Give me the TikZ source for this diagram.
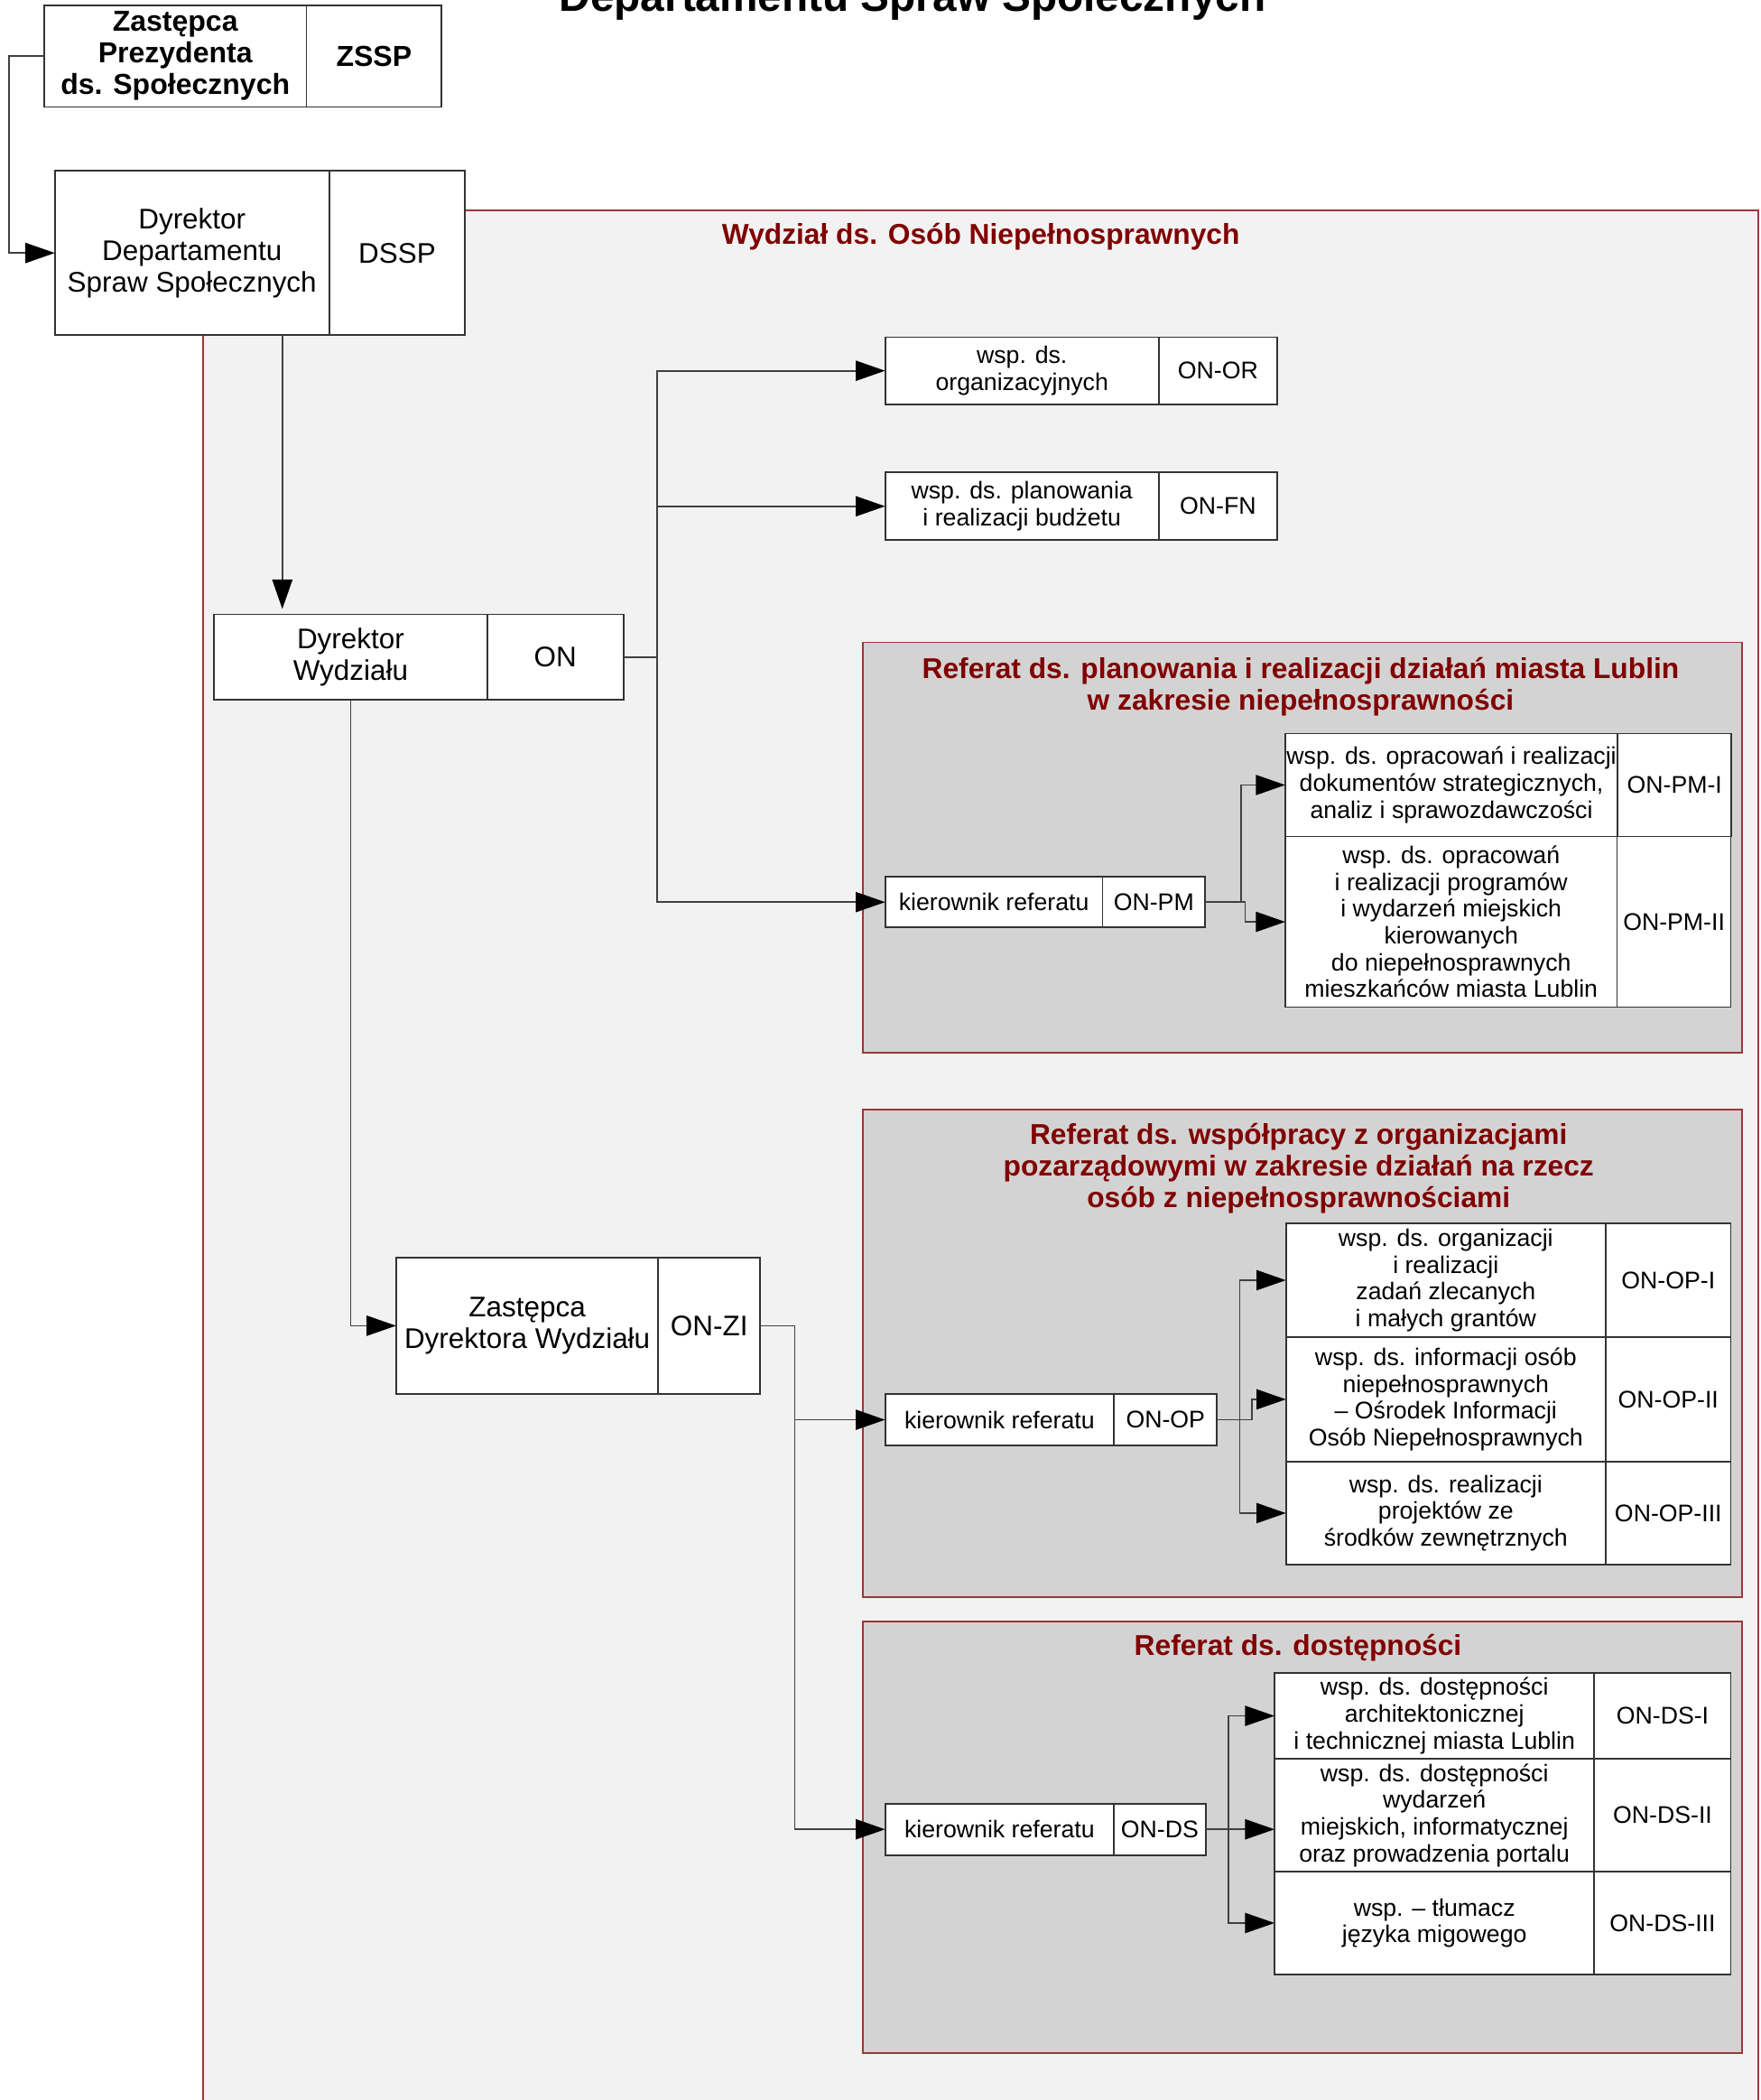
\documentclass[tikz,border=0pt]{standalone}
\usepackage{fontspec}
\setmainfont{Liberation Sans}
\usetikzlibrary{arrows.meta}

\definecolor{wydzialbg}{RGB}{242,242,242}
\definecolor{referatbg}{RGB}{211,211,211}
\definecolor{ramka}{RGB}{155,55,55}
\definecolor{tytul}{RGB}{128,0,0}

\newcommand{\pxu}{0.5pt}
\tikzstyle{cell}=[draw=black!80,fill=white,line width=0.6pt,inner xsep=0.5pt,
    inner ysep=1pt,outer sep=0pt,align=center,font=\fontsize{9}{10}\selectfont]
\tikzstyle{cell big}=[font=\fontsize{10.6}{11.8}\selectfont]
\tikzstyle{cell bold}=[font=\bfseries\fontsize{10.8}{11.8}\selectfont]
\tikzstyle{section}=[draw=ramka,line width=0.6pt]
\tikzstyle{section title}=[text=tytul,align=center,
    font=\bfseries\fontsize{10.7}{11.8}\selectfont]
\tikzstyle{link}=[draw=black!75,line width=0.6pt]
\tikzstyle{arrow}=[link,-{Triangle[length=11pt,width=7.5pt,color=black]}]
\newcommand{\post}[8][]{
    \node[cell,#1,anchor=north west,minimum width=#4*\pxu,
        minimum height=#6*\pxu] at (#2) (#3) {#7};
    \node[cell,#1,anchor=north west,minimum width=#5*\pxu,
        minimum height=#6*\pxu] at (#3.north east) (#3-kod) {#8};
}

\begin{document}
\begin{tikzpicture}[x=0.5pt,y=-0.5pt]
    \useasboundingbox (0,0) rectangle (1316,1569);
    %
    \node[anchor=base,font=\bfseries\fontsize{16.1}{18}\selectfont] (naglowek)
        at (682,8.5) {Departamentu Spraw Społecznych};
    %
    \filldraw[section,fill=wydzialbg] (152,157) rectangle (1314,1600);
    \node[section title] (wydzial) at (733,177) {Wydział ds. Osób Niepełnosprawnych};
    %
    \filldraw[section,fill=referatbg] (645,480) rectangle (1302,786.5);
    \node[section title] (refpm) at (972,513)
        {Referat ds. planowania i realizacji działań miasta Lublin\\
         w zakresie niepełnosprawności};
    \filldraw[section,fill=referatbg] (645,829) rectangle (1302,1193);
    \node[section title] (refop) at (970.5,873)
        {Referat ds. współpracy z organizacjami\\
         pozarządowymi w zakresie działań na rzecz\\
         osób z niepełnosprawnościami};
    \filldraw[section,fill=referatbg] (645,1211.5) rectangle (1302,1534);
    \node[section title] (refds) at (970,1231) {Referat ds. dostępności};
    %
    \post[cell bold]{33,4}{zssp}{196}{101}{76}
        {Zastępca\\Prezydenta\\ds. Społecznych}{ZSSP}
    \post[cell big]{41,127.5}{dssp}{205}{101.5}{123}
        {Dyrektor\\Departamentu\\Spraw Społecznych}{DSSP}
    \post[cell big]{160,459}{dw}{204}{102}{64}{Dyrektor\\Wydziału}{ON}
    \post[cell big]{296,939.5}{zdw}{196}{76}{102}
        {Zastępca\\Dyrektora Wydziału}{ON-ZI}
    %
    \post{661.5,252}{onor}{204.5}{88.5}{50}{wsp. ds.\\organizacyjnych}{ON-OR}
    \post{661.5,353}{onfn}{204.5}{88.5}{50.5}
        {wsp. ds. planowania\\i realizacji budżetu}{ON-FN}
    %
    \post{661.5,655}{kpm}{162.5}{76.5}{38}{kierownik referatu}{ON-PM}
    \post{960.5,548}{pm1}{248}{85}{77}
        {wsp. ds. opracowań i realizacji\\dokumentów strategicznych,\\
         analiz i sprawozdawczości}{ON-PM-I}
    \post{960.5,625}{pm2}{248}{85}{127.5}
        {wsp. ds. opracowań\\i realizacji programów\\i wydarzeń miejskich\\
         kierowanych\\do niepełnosprawnych\\mieszkańców miasta Lublin}{ON-PM-II}
    %
    \post{661.5,1041.5}{kop}{171}{77}{38.5}{kierownik referatu}{ON-OP}
    \post{961,914}{op1}{239}{93.5}{85}
        {wsp. ds. organizacji\\i realizacji\\zadań zlecanych\\i małych grantów}{ON-OP-I}
    \post{961,999}{op2}{239}{93.5}{93}
        {wsp. ds. informacji osób\\niepełnosprawnych\\– Ośrodek Informacji\\
         Osób Niepełnosprawnych}{ON-OP-II}
    \post{961,1092}{op3}{239}{93.5}{77}
        {wsp. ds. realizacji\\projektów ze\\środków zewnętrznych}{ON-OP-III}
    %
    \post{661.5,1347.5}{kds}{171}{68.5}{38.5}{kierownik referatu}{ON-DS}
    \post{952.5,1250}{ds1}{239}{102}{64}
        {wsp. ds. dostępności\\architektonicznej\\i technicznej miasta Lublin}{ON-DS-I}
    \post{952.5,1314}{ds2}{239}{102}{84.5}
        {wsp. ds. dostępności\\wydarzeń\\miejskich, informatycznej\\
         oraz prowadzenia portalu}{ON-DS-II}
    \post{952.5,1398.5}{ds3}{239}{102}{76.5}
        {wsp. – tłumacz\\języka migowego}{ON-DS-III}
    %
    \draw[arrow] (zssp.west) -- ++(-26,0) |- (dssp.west);
    \draw[arrow,shorten >=2pt] (211,0 |- dssp.south) -- (211,0 |- dw.north);
    %
    \draw[arrow] (dw-kod.east) -- ++(25,0) |- (onor.west);
    \draw[arrow] (dw-kod.east) -- ++(25,0) |- (onfn.west);
    \draw[arrow] (dw-kod.east) -- ++(25,0) |- (kpm.west);
    \draw[arrow] (dw.south) |- (zdw.west);
    %
    \draw[arrow] (zdw-kod.east) -- ++(26,0) |- (kop.west);
    \draw[arrow] (zdw-kod.east) -- ++(26,0) |- (kds.west);
    %
    \draw[arrow] (kpm-kod.east) -- ++(27,0) |- (pm1.west);
    \draw[arrow] (kpm-kod.east) -- ++(30,0) |- (pm2.west);
    %
    \draw[arrow] (kop-kod.east) -- ++(17,0) |- (op1.west);
    \draw[arrow] (kop-kod.east) -- ++(26,0) |- (op2.west);
    \draw[arrow] (kop-kod.east) -- ++(17,0) |- (op3.west);
    %
    \draw[arrow] (kds-kod.east) -- ++(17,0) |- (ds1.west);
    \draw[arrow] (kds-kod.east) -- (kds-kod.east -| ds2.west);
    \draw[arrow] (kds-kod.east) -- ++(17,0) |- (ds3.west);
\end{tikzpicture}
\end{document}
